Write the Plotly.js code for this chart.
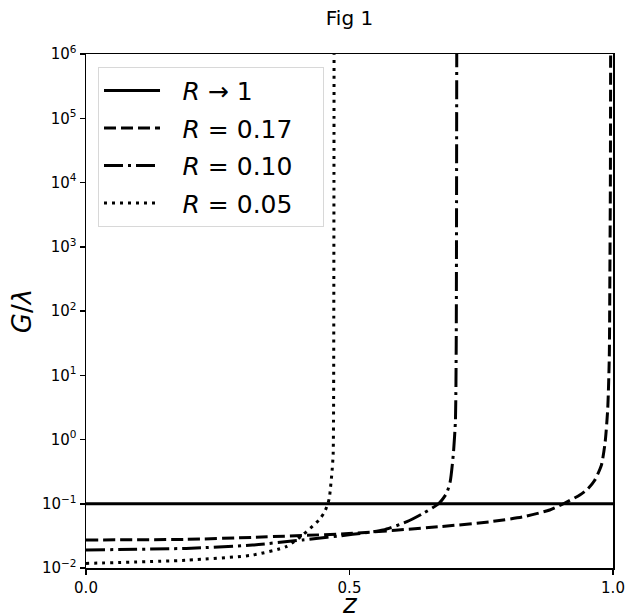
<!DOCTYPE html>
<html>
<head>
<meta charset="utf-8">
<script src="https://cdn.plot.ly/plotly-3.0.1.min.js"></script>
<style>html,body{margin:0;padding:0;background:#fff;}#chart{width:625px;height:615px;}</style>
</head>
<body>
<div id="chart"></div>
<script>
// ---- data ----
const zR1 = [0, 0.5, 1];
const gR1 = [0.1, 0.1, 0.1];

const z017 = [0, 0.19, 0.316, 0.506, 0.672, 0.767, 0.83, 0.88, 0.906, 0.937, 0.952, 0.965, 0.978, 0.985, 0.99, 0.993, 0.994, 0.995, 0.9955];
const g017 = [0.0273, 0.0279, 0.0300, 0.0346, 0.044, 0.0525, 0.0628, 0.080, 0.1, 0.137, 0.17, 0.23, 0.4, 0.9, 3, 20, 300, 1e4, 1e6];

const z010 = [0, 0.19, 0.316, 0.411, 0.506, 0.564, 0.609, 0.640, 0.669, 0.684, 0.691, 0.697, 0.701, 0.7025, 0.703, 0.7035];
const g010 = [0.0191, 0.0202, 0.0228, 0.0273, 0.0334, 0.039, 0.0525, 0.071, 0.1, 0.145, 0.22, 0.59, 1.96, 30, 1e3, 1e6];

const z005 = [0, 0.19, 0.316, 0.38, 0.411, 0.442, 0.452, 0.459, 0.462, 0.464, 0.467, 0.469, 0.4698, 0.4702, 0.4705, 0.4707];
const g005 = [0.0118, 0.0132, 0.0159, 0.0215, 0.0327, 0.0558, 0.0727, 0.1, 0.127, 0.18, 0.33, 0.59, 3, 100, 1e4, 1e6];

const seriesNames = ["<i>R</i> → 1", "<i>R</i> = 0.17", "<i>R</i> = 0.10", "<i>R</i> = 0.05"];
const yTickVals = [1e-2, 1e-1, 1e0, 1e1, 1e2, 1e3, 1e4, 1e5, 1e6];
const yTickText = ["10<sup>−2</sup>", "10<sup>−1</sup>", "10<sup>0</sup>", "10<sup>1</sup>", "10<sup>2</sup>", "10<sup>3</sup>", "10<sup>4</sup>", "10<sup>5</sup>", "10<sup>6</sup>"];
const xTickVals = [0, 0.5, 1];
const xTickText = ["0.0", "0.5", "1.0"];
const xTitle = "<i>z</i>";
const yTitle = "<i>G</i>/<i>λ</i>";

// ---- chart ----
const FONT = "DejaVu Sans, sans-serif";
const LW = 3;
const traces = [
  {x: zR1, y: gR1, name: seriesNames[0], dash: "solid"},
  {x: z017, y: g017, name: seriesNames[1], dash: "12px,5px"},
  {x: z010, y: g010, name: seriesNames[2], dash: "19px,5px,3px,5px"},
  {x: z005, y: g005, name: seriesNames[3], dash: "3px,5px"}
].map((t, i) => ({
  x: t.x, y: t.y, name: "\u2002\u2009" + t.name + "\u2003", type: "scatter", mode: "lines",
  legendgroup: "g" + i,
  line: {color: "#000", width: LW, dash: t.dash, shape: "spline", smoothing: 0.6},
  hoverinfo: "skip"
}));

const layout = {
  width: 625, height: 615,
  margin: {l: 86, r: 12, t: 54, b: 47},
  paper_bgcolor: "#fff", plot_bgcolor: "#fff",
  font: {family: FONT, color: "#000", size: 15},
  title: {text: "Fig 1", font: {family: FONT, size: 20, color: "#000"}, x: 0.5, xref: "paper", y: 0.97, yref: "container", yanchor: "middle"},
  showlegend: true,
  legend: {
    x: 0.0228, y: 0.975, xanchor: "left", yanchor: "top",
    bgcolor: "rgba(255,255,255,0.8)", bordercolor: "#d8d8d8", borderwidth: 1,
    font: {family: FONT, size: 25, color: "#000"},
    traceorder: "grouped", tracegroupgap: 2, itemwidth: 56
  },
  xaxis: {
    range: [0, 1], tickvals: xTickVals, ticktext: xTickText,
    showgrid: false, zeroline: false,
    showline: true, linecolor: "#000", linewidth: 1.5, mirror: true,
    ticks: "outside", ticklen: 5, tickwidth: 1.5, tickcolor: "#000",
    tickfont: {family: FONT, size: 15, color: "#000"}
  },
  yaxis: {
    type: "log", range: [-2, 6], tickvals: yTickVals, ticktext: yTickText,
    showgrid: false, zeroline: false,
    showline: true, linecolor: "#000", linewidth: 1.5, mirror: true,
    ticks: "outside", ticklen: 5, tickwidth: 1.5, tickcolor: "#000",
    tickfont: {family: FONT, size: 15, color: "#000"},
    title: {text: yTitle, font: {family: FONT, size: 26, color: "#000"}, standoff: 3}
  },
  annotations: [{
    text: xTitle, xref: "paper", yref: "paper", x: 0.5, y: 0,
    xanchor: "center", yanchor: "middle", yshift: -36, showarrow: false,
    font: {family: FONT, size: 26, color: "#000"}
  }]
};

Plotly.newPlot("chart", traces, layout, {displayModeBar: false, staticPlot: true});
</script>
</body>
</html>
